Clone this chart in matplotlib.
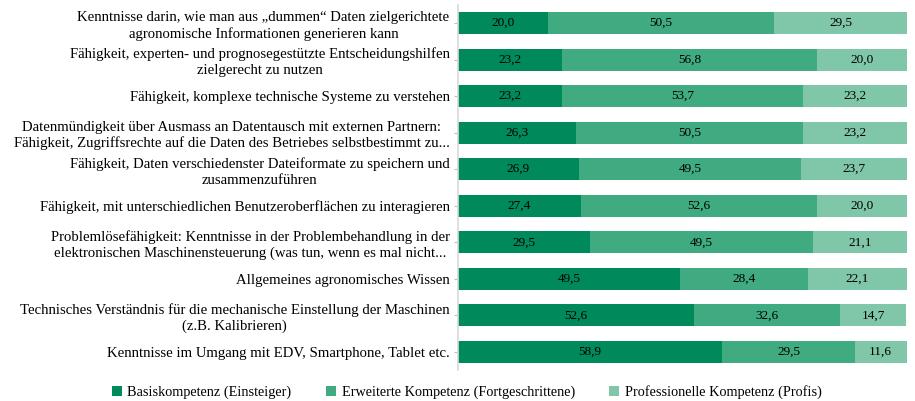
import matplotlib
matplotlib.use("Agg")
import matplotlib.pyplot as plt
import numpy as np

categories = [
    "Kenntnisse darin, wie man aus „dummen“ Daten zielgerichtete\nagronomische Informationen generieren kann",
    "Fähigkeit, experten- und prognosegestützte Entscheidungshilfen\nzielgerecht zu nutzen",
    "Fähigkeit, komplexe technische Systeme zu verstehen",
    "Datenmündigkeit über Ausmass an Datentausch mit externen Partnern:\nFähigkeit, Zugriffsrechte auf die Daten des Betriebes selbstbestimmt zu...",
    "Fähigkeit, Daten verschiedenster Dateiformate zu speichern und\nzusammenzuführen",
    "Fähigkeit, mit unterschiedlichen Benutzeroberflächen zu interagieren",
    "Problemlösefähigkeit: Kenntnisse in der Problembehandlung in der\nelektronischen Maschinensteuerung (was tun, wenn es mal nicht...",
    "Allgemeines agronomisches Wissen",
    "Technisches Verständnis für die mechanische Einstellung der Maschinen\n(z.B. Kalibrieren)",
    "Kenntnisse im Umgang mit EDV, Smartphone, Tablet etc.",
]
basis = [20.0, 23.2, 23.2, 26.3, 26.9, 27.4, 29.5, 49.5, 52.6, 58.9]
erweitert = [50.5, 56.8, 53.7, 50.5, 49.5, 52.6, 49.5, 28.4, 32.6, 29.5]
profi = [29.5, 20.0, 23.2, 23.2, 23.7, 20.0, 21.1, 22.1, 14.7, 11.6]
series_names = ["Basiskompetenz (Einsteiger)",
                "Erweiterte Kompetenz (Fortgeschrittene)",
                "Professionelle Kompetenz (Profis)"]
colors = ["#00895A", "#40AA80", "#80C6A8"]

plt.rcParams['font.family'] = ['Liberation Serif', 'DejaVu Serif']

fig = plt.figure(figsize=(9.15, 4.01), dpi=100)
ax = fig.add_axes([0.5005, 0.077, 0.4905, 0.911])

y = np.arange(len(categories))
left = np.zeros(len(categories))
handles = []
for vals, c, name in zip([basis, erweitert, profi], colors, series_names):
    vals = np.array(vals)
    b = ax.barh(y, vals, left=left, height=0.6, color=c, label=name)
    handles.append(b)
    for yi, l, v in zip(y, left, vals):
        ax.text(l + v / 2, yi, f"{v:.1f}".replace(".", ","), ha="center", va="center",
                fontsize=9.5, color="black")
    left += vals

ax.set_ylim(len(categories) - 0.5, -0.5)
ax.set_xlim(0, 100)
ax.set_yticks(y)
ax.set_yticklabels(categories, fontsize=10.6, multialignment="center", linespacing=1.25)
ax.tick_params(axis="y", length=3, color="#BFBFBF", pad=3)
ax.set_xticks([])
for s in ["top", "right", "bottom"]:
    ax.spines[s].set_visible(False)
ax.spines["left"].set_color("#D9D9D9")
ax.spines["left"].set_linewidth(1.2)

fig.legend(handles=handles, labels=series_names, loc="center", ncol=3,
           bbox_to_anchor=(0.51, 0.022), frameon=False, fontsize=10.3,
           handlelength=0.7, handleheight=0.7, handletextpad=0.4, columnspacing=2.4)

fig.savefig("out.png", dpi=100)
